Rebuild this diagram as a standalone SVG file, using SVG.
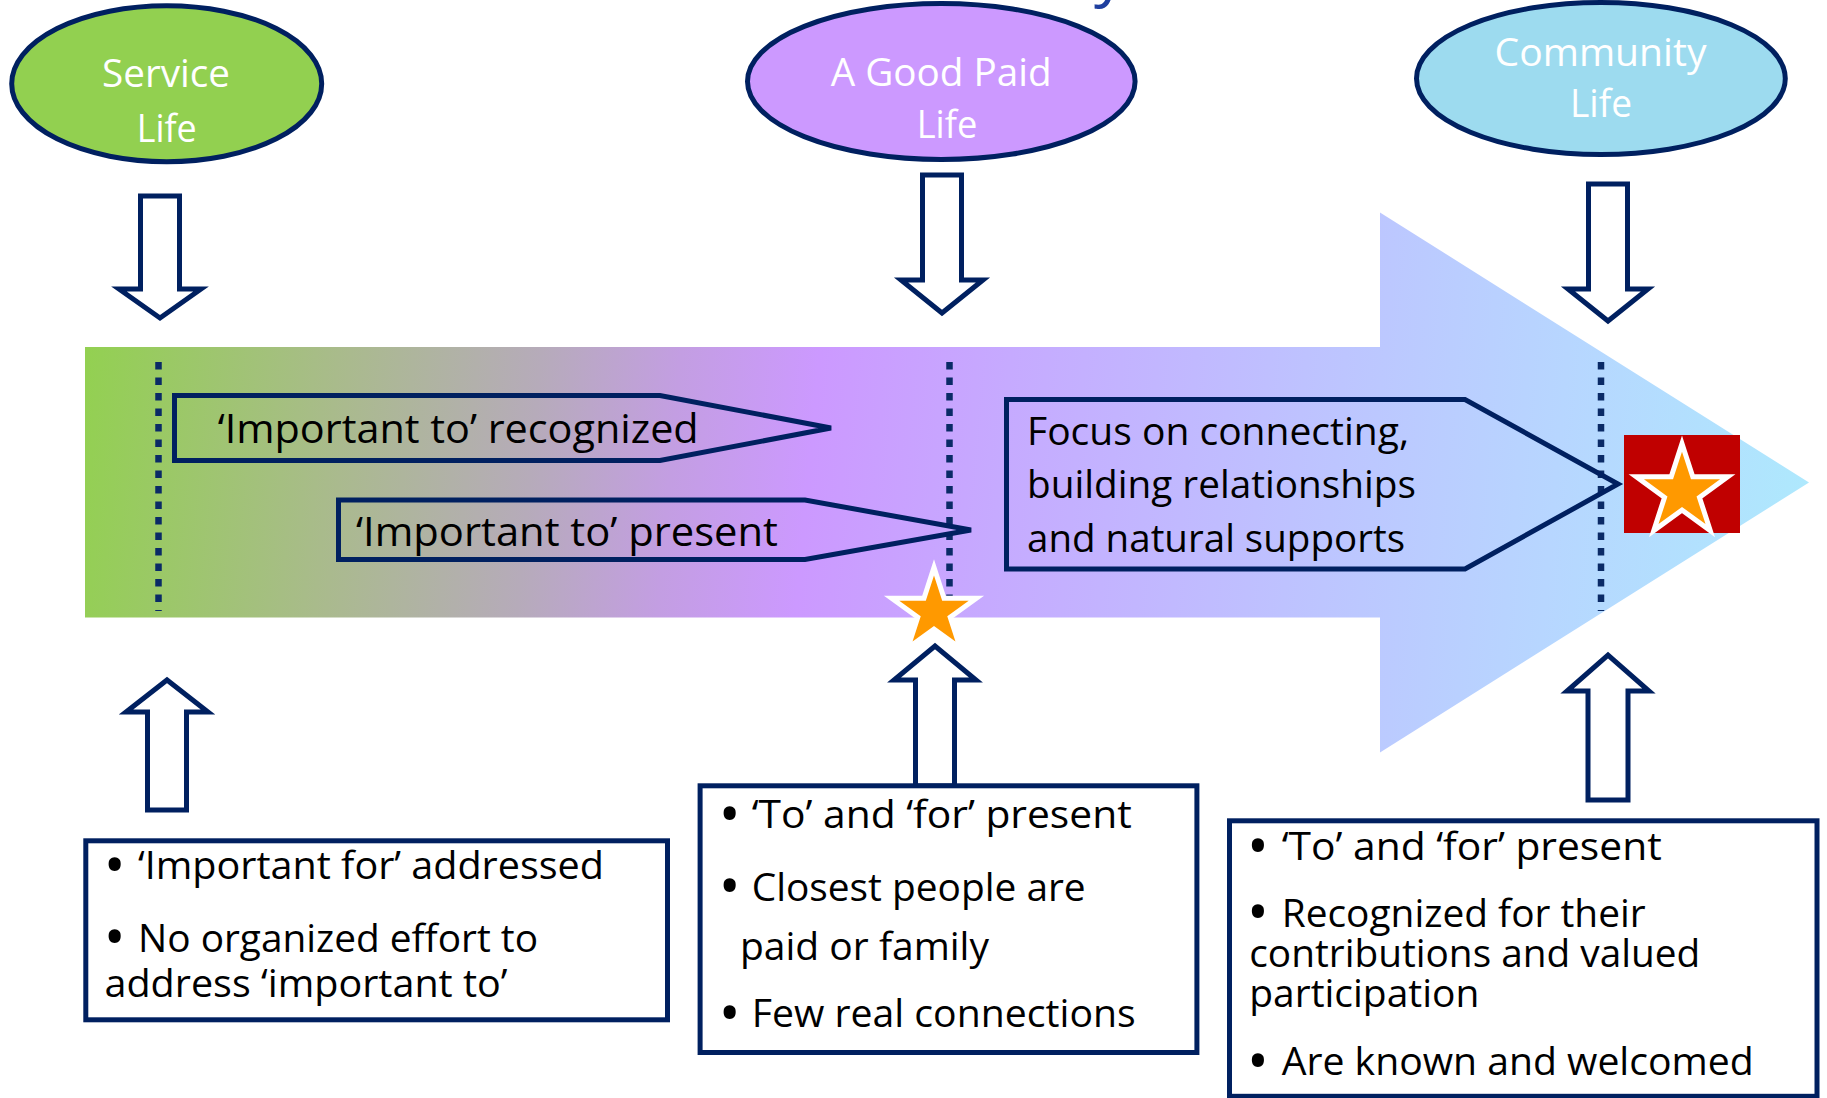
<svg xmlns="http://www.w3.org/2000/svg" width="1827" height="1098" viewBox="0 0 1827 1098">
  <defs>
    <linearGradient id="band" gradientUnits="userSpaceOnUse" x1="85" y1="400" x2="1809" y2="560">
      <stop offset="0" stop-color="#93D052"/>
      <stop offset="0.15" stop-color="#AABA8E"/>
      <stop offset="0.26" stop-color="#B6ABBA"/>
      <stop offset="0.34" stop-color="#C39EE2"/>
      <stop offset="0.42" stop-color="#CC99FF"/>
      <stop offset="0.53" stop-color="#C6AAFF"/>
      <stop offset="0.70" stop-color="#BEC2FF"/>
      <stop offset="0.85" stop-color="#B7D6FF"/>
      <stop offset="1" stop-color="#AEE9FD"/>
    </linearGradient>
    <style>
      .t{font-family:"Open Sans","Liberation Sans",sans-serif;font-size:39px;fill:#000}
      .lbl{font-family:"Open Sans","Liberation Sans",sans-serif;font-size:39px;fill:#FFFFFF;text-anchor:middle}
      .big{font-size:40.5px}
      .bul{font-family:"Open Sans","Liberation Sans",sans-serif;font-size:58px;fill:#000;text-anchor:middle}
      .oval{stroke:#002060;stroke-width:5}
      .blk{fill:#FFFFFF;stroke:#002060;stroke-width:5;stroke-linejoin:miter}
      .tag{fill:none;stroke:#002060;stroke-width:5;stroke-linejoin:miter}
      .dots{stroke:#0A2A66;stroke-width:6.5;stroke-dasharray:7.5 8;fill:none}
      .star{fill:#FF9900;stroke:#FFFFFF;stroke-width:10;paint-order:stroke;stroke-miterlimit:4}
      .box{fill:#FFFFFF;stroke:#002060;stroke-width:5}
    </style>
  </defs>

  <rect width="1827" height="1098" fill="#FFFFFF"/>

  <!-- title fragment at the top edge -->
  <text x="1094" y="-6" font-family="Open Sans, sans-serif" font-size="64" fill="#1F3F9F">y</text>

  <!-- progression band -->
  <g id="band-arrow">
    <path d="M85,347 H1380 V212.5 L1809,482.5 L1380,752.5 V617.5 H85 Z" fill="url(#band)"/>
    <line class="dots" x1="158.5" y1="362" x2="158.5" y2="611"/>
    <line class="dots" x1="949.5" y1="362" x2="949.5" y2="611"/>
    <line class="dots" x1="1601" y1="362" x2="1601" y2="611"/>
  </g>

  <!-- life-stage nodes -->
  <g id="node-service-life">
    <ellipse class="oval" cx="166.7" cy="83.7" rx="155" ry="78" fill="#92D050"/>
    <text class="lbl" x="166" y="87.3" textLength="128" lengthAdjust="spacingAndGlyphs">Service</text>
    <text class="lbl" x="166.7" y="141.7" textLength="60" lengthAdjust="spacingAndGlyphs">Life</text>
  </g>
  <g id="node-good-paid-life">
    <ellipse class="oval" cx="941.3" cy="81.5" rx="193.8" ry="78" fill="#CC99FF"/>
    <text class="lbl" x="941.2" y="85.7" textLength="221" lengthAdjust="spacingAndGlyphs">A Good Paid</text>
    <text class="lbl" x="947" y="138.3" textLength="60.6" lengthAdjust="spacingAndGlyphs">Life</text>
  </g>
  <g id="node-community-life">
    <ellipse class="oval" cx="1600.9" cy="78.5" rx="184.4" ry="76" fill="#9DDBEF"/>
    <text class="lbl" x="1600.5" y="65.7" textLength="212" lengthAdjust="spacingAndGlyphs">Community</text>
    <text class="lbl" x="1601" y="117.3" textLength="62" lengthAdjust="spacingAndGlyphs">Life</text>
  </g>

  <!-- stage tags on the band -->
  <g id="tag-recognized">
    <path class="tag" d="M174.5,395.5 H660 L831,428 L660,460.5 H174.5 Z"/>
    <text class="t big" x="217.7" y="443.3" textLength="481" lengthAdjust="spacingAndGlyphs">‘Important to’ recognized</text>
  </g>
  <g id="tag-present">
    <path class="tag" d="M338.5,500 H805 L971,530 L805,559.5 H338.5 Z"/>
    <text class="t big" x="356" y="546" textLength="422" lengthAdjust="spacingAndGlyphs">‘Important to’ present</text>
  </g>
  <g id="tag-focus">
    <path class="tag" d="M1006.5,399.5 H1465 L1618,484 L1465,569 H1006.5 Z"/>
    <text class="t" x="1027" y="445" textLength="382" lengthAdjust="spacingAndGlyphs">Focus on connecting,</text>
    <text class="t" x="1027" y="498.3" textLength="389" lengthAdjust="spacingAndGlyphs">building relationships</text>
    <text class="t" x="1027" y="551.7" textLength="378" lengthAdjust="spacingAndGlyphs">and natural supports</text>
  </g>

  <!-- milestone stars -->
  <g id="star-good-paid">
    <path class="star" d="M934,575.5 L942.19,600.72 L968.71,600.72 L947.26,616.31 L955.45,641.53 L934,625.94 L912.55,641.53 L920.74,616.31 L899.29,600.72 L925.81,600.72 Z"/>
  </g>
  <g id="star-community">
    <rect x="1624" y="435" width="116" height="98" fill="#C00000"/>
    <path class="star" d="M1682,451.7 L1690.98,479.34 L1720.04,479.34 L1696.53,496.42 L1705.51,524.06 L1682,506.98 L1658.49,524.06 L1667.47,496.42 L1643.96,479.34 L1673.02,479.34 Z"/>
  </g>

  <!-- block arrows linking nodes, band and descriptions -->
  <g id="connectors">
    <path class="blk" d="M140.5,196 H179.5 V289 H201 L160,318 L119,289 H140.5 Z"/>
    <path class="blk" d="M922.5,175 H961.5 V280 H983 L942,313 L901,280 H922.5 Z"/>
    <path class="blk" d="M1588.5,184 H1627.5 V289 H1648 L1608,321 L1568,289 H1588.5 Z"/>
    <path class="blk" d="M147.5,810 V712 H126 L167,680 L208,712 H186.5 V810 Z"/>
    <path class="blk" d="M915.5,786 V680 H894 L935,646 L976,680 H954.5 V786 Z"/>
    <path class="blk" d="M1588,800 V691 H1567 L1608,655 L1649,691 H1628 V800 Z"/>
  </g>

  <!-- stage descriptions -->
  <g id="desc-service-life">
    <rect class="box" x="85.8" y="840.8" width="581.7" height="179"/>
    <text class="bul" x="114.7" y="886">•</text>
    <text class="t" x="138" y="879.3" textLength="466" lengthAdjust="spacingAndGlyphs">‘Important for’ addressed</text>
    <text class="bul" x="114.7" y="958">•</text>
    <text class="t" x="138" y="951.7" textLength="400" lengthAdjust="spacingAndGlyphs">No organized effort to</text>
    <text class="t" x="104.5" y="997.3" textLength="403" lengthAdjust="spacingAndGlyphs">address ‘important to’</text>
  </g>
  <g id="desc-good-paid-life">
    <rect class="box" x="700.1" y="785.8" width="496.8" height="266.7"/>
    <text class="bul" x="729.7" y="835">•</text>
    <text class="t" x="751.7" y="828.3" textLength="380" lengthAdjust="spacingAndGlyphs">‘To’ and ‘for’ present</text>
    <text class="bul" x="729.7" y="907.4">•</text>
    <text class="t" x="751.7" y="900.7" textLength="334" lengthAdjust="spacingAndGlyphs">Closest people are</text>
    <text class="t" x="740" y="960" textLength="249" lengthAdjust="spacingAndGlyphs">paid or family</text>
    <text class="bul" x="729.7" y="1034">•</text>
    <text class="t" x="751.7" y="1027.3" textLength="384" lengthAdjust="spacingAndGlyphs">Few real connections</text>
  </g>
  <g id="desc-community-life">
    <rect class="box" x="1229.5" y="820.8" width="587.5" height="275.5"/>
    <text class="bul" x="1257.8" y="866.7">•</text>
    <text class="t" x="1281.7" y="860" textLength="380" lengthAdjust="spacingAndGlyphs">‘To’ and ‘for’ present</text>
    <text class="bul" x="1257.8" y="933.4">•</text>
    <text class="t" x="1281.7" y="926.7" textLength="364" lengthAdjust="spacingAndGlyphs">Recognized for their</text>
    <text class="t" x="1249.3" y="966.7" textLength="451" lengthAdjust="spacingAndGlyphs">contributions and valued</text>
    <text class="t" x="1249.3" y="1006.7" textLength="230" lengthAdjust="spacingAndGlyphs">participation</text>
    <text class="bul" x="1257.8" y="1081.7">•</text>
    <text class="t" x="1281.7" y="1075" textLength="472" lengthAdjust="spacingAndGlyphs">Are known and welcomed</text>
  </g>
</svg>
